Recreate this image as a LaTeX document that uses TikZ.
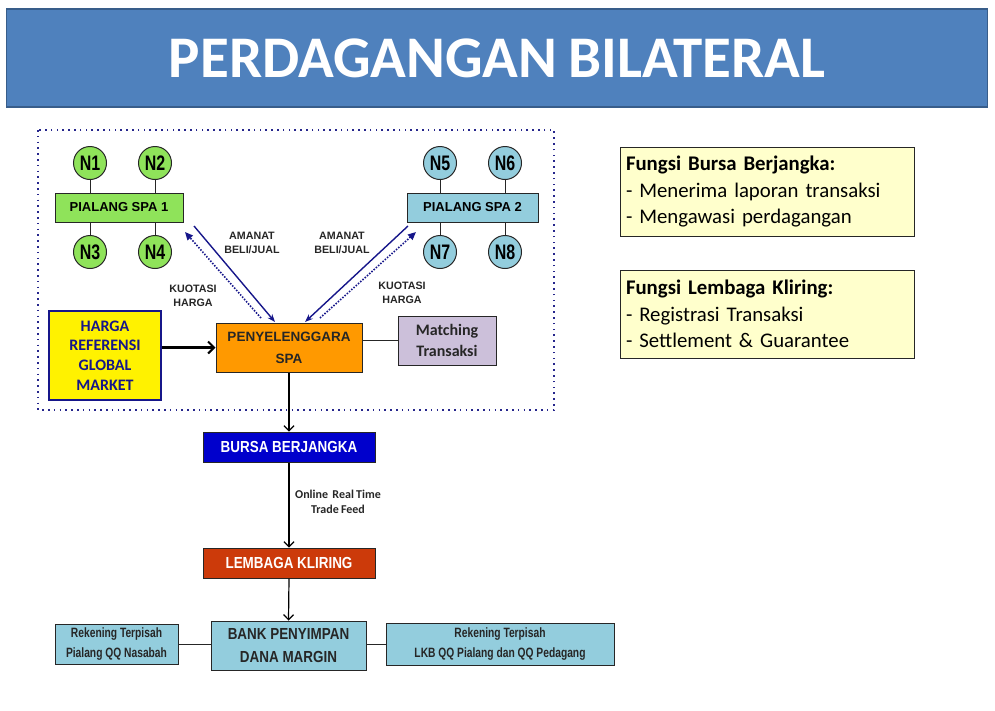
\documentclass[tikz,border=0pt]{standalone}
\usepackage{fontspec}
\setmainfont{Liberation Sans}
\newfontfamily\calib[WordSpace=0.8]{Carlito}
\newfontfamily\narrow[FakeStretch=0.84]{Liberation Sans}
\newfontfamily\condensed[FakeStretch=0.76]{Liberation Sans}
\usetikzlibrary{arrows.meta,calc}
\definecolor{titlefill}{HTML}{4F81BD}
\definecolor{titleline}{HTML}{385D8A}
\definecolor{nodegreen}{HTML}{8FE35A}
\definecolor{nodeblue}{HTML}{93CDDD}
\definecolor{spaorange}{HTML}{FF9900}
\definecolor{lavender}{HTML}{CCC0DA}
\definecolor{bursablue}{HTML}{0000CC}
\definecolor{kliringred}{HTML}{CC3A0A}
\definecolor{paleyellow}{HTML}{FFFFCC}
\definecolor{navy}{HTML}{16168A}
\definecolor{dotblue}{HTML}{26268C}
\begin{document}
\begin{tikzpicture}[x=1pt,y=-1pt,
  box/.style={draw=black!85, line width=1pt, inner sep=0pt, align=center},
  circ/.style={circle, draw=black!85, line width=1pt, minimum size=33pt, inner sep=0pt,
    font=\condensed\bfseries\fontsize{21}{21}\selectfont},
  lbl/.style={font=\bfseries\fontsize{10.7}{14}\selectfont, text=black!85, align=center},
  link/.style={line width=1pt, black!85},
  flow/.style={line width=1.2pt, black, -{Straight Barb[length=5pt,width=10pt,line width=1.2pt]}},
  order/.style={line width=1.4pt, navy, -{Stealth[length=8pt,width=6pt]}},
  quote/.style={line width=1.6pt, navy, dash pattern=on 1.5pt off 1.5pt, -{Triangle[length=8pt,width=7pt]}},
  info/.style={draw=black!85, line width=1pt, fill=paleyellow, minimum width=294pt, inner sep=0pt,
    text width=282pt, align=left, font=\calib\fontsize{20.8}{26.5}\selectfont}
]
\useasboundingbox (0,0) rectangle (995,710);

% title bar
\node[draw=titleline, line width=1.5pt, fill=titlefill, minimum width=981pt, minimum height=98pt,
  inner sep=0pt, text=white, font=\calib\bfseries\fontsize{59}{59}\selectfont] (title) at (497,58)
  {PERDAGANGAN BILATERAL};

% dotted frame around the SPA area
\draw[dotblue, line width=1.6pt, dash pattern=on 1.6pt off 4.2pt] (38,130) rectangle (554,410);

% broker 1 with its clients
\node[box, fill=nodegreen, minimum width=128pt, minimum height=29pt, font=\bfseries\fontsize{13}{14}\selectfont] (p1) at (119,207.5) {PIALANG SPA 1};
\node[circ, fill=nodegreen] (n1) at (90,163) {N1};
\node[circ, fill=nodegreen] (n2) at (155,163) {N2};
\node[circ, fill=nodegreen] (n3) at (90,252) {N3};
\node[circ, fill=nodegreen] (n4) at (155,252) {N4};
\draw[link] (n1) -- (n1 |- p1.north);
\draw[link] (n2) -- (n2 |- p1.north);
\draw[link] (n3) -- (n3 |- p1.south);
\draw[link] (n4) -- (n4 |- p1.south);

% broker 2 with its clients
\node[box, fill=nodeblue, minimum width=131pt, minimum height=29pt, font=\bfseries\fontsize{13}{14}\selectfont] (p2) at (472.5,207.5) {PIALANG SPA 2};
\node[circ, fill=nodeblue] (n5) at (440,163) {N5};
\node[circ, fill=nodeblue] (n6) at (505,163) {N6};
\node[circ, fill=nodeblue] (n7) at (440,252) {N7};
\node[circ, fill=nodeblue] (n8) at (505,252) {N8};
\draw[link] (n5) -- (n5 |- p2.north);
\draw[link] (n6) -- (n6 |- p2.north);
\draw[link] (n7) -- (n7 |- p2.south);
\draw[link] (n8) -- (n8 |- p2.south);

% SPA operator, matching and reference price
\node[box, fill=spaorange, minimum width=146pt, minimum height=49pt, font=\bfseries\fontsize{13.5}{22}\selectfont, text=black!85] (spa) at (289,347.5) {PENYELENGGARA\\SPA};
\node[box, fill=lavender, minimum width=98pt, minimum height=49pt, font=\calib\bfseries\fontsize{16}{20.5}\selectfont, text=black!85] (match) at (447,340.5) {Matching\\Transaksi};
\node[box, draw=navy, line width=1.5pt, fill=yellow, minimum width=112pt, minimum height=89pt, font=\calib\bfseries\fontsize{16}{19.7}\selectfont, text=navy] (ref) at (105,355.5) {HARGA\\REFERENSI\\GLOBAL\\MARKET};
\draw[line width=2.2pt, black, -{Straight Barb[length=6pt,width=12pt,line width=2pt]}] (ref.east |- spa.west) -- (spa.west);
\draw[link] (spa.east |- match.west) -- (match.west);

% orders and quotes between brokers and operator
\coordinate (o1s) at (194,226);
\coordinate (o1e) at (275,322);
\coordinate (q1s) at (261,318);
\coordinate (q1e) at (185,232);
\coordinate (o2s) at (408,226);
\coordinate (o2e) at (305,322);
\coordinate (q2s) at (320,318);
\coordinate (q2e) at (416,232);
\draw[order] (o1s) -- (o1e);
\draw[quote] (q1s) -- (q1e);
\draw[order] (o2s) -- (o2e);
\draw[quote] (q2s) -- (q2e);
\node[lbl] (am1) at (252,243) {AMANAT\\BELI/JUAL};
\node[lbl] (am2) at (342,243) {AMANAT\\BELI/JUAL};
\node[lbl] (ku1) at (193,296) {KUOTASI\\HARGA};
\node[lbl] (ku2) at (402,293) {KUOTASI\\HARGA};

% exchange, clearing house and margin bank
\node[box, fill=bursablue, minimum width=172pt, minimum height=30pt, text=white, font=\narrow\bfseries\fontsize{16}{16}\selectfont] (bursa) at (289,447) {BURSA BERJANGKA};
\node[box, fill=kliringred, minimum width=172pt, minimum height=30pt, text=white, font=\narrow\bfseries\fontsize{16}{16}\selectfont] (kliring) at (289,563) {LEMBAGA KLIRING};
\node[box, fill=nodeblue, minimum width=155pt, minimum height=49pt, text=black!85, font=\narrow\bfseries\fontsize{16}{23}\selectfont] (bank) at (288.5,645.5) {BANK PENYIMPAN\\DANA MARGIN};
\node[box, fill=nodeblue, minimum width=123pt, minimum height=40pt, text=black!85, font=\condensed\bfseries\fontsize{13.5}{20}\selectfont] (rek1) at (116.5,644) {Rekening Terpisah\\Pialang QQ Nasabah};
\node[box, fill=nodeblue, minimum width=228pt, minimum height=42pt, text=black!85, font=\condensed\bfseries\fontsize{13.5}{20}\selectfont] (rek2) at (500,644) {Rekening Terpisah\\LKB QQ Pialang dan QQ Pedagang};

\draw[flow] (spa.south) -- (bursa.north);
\draw[flow] (bursa.south) -- (kliring.north);
\draw[flow] (kliring.south) -- (bank.north);
\draw[link] (rek1.east) -- (bank.west |- rek1.east);
\draw[link] (bank.east |- rek2.west) -- (rek2.west);
\node[font=\calib\bfseries\fontsize{12}{15}\selectfont, text=black!85, align=center] (feed) at (338,502) {Online\ \ Real Time\\Trade Feed};

% function notes
\node[info, minimum height=89pt] (fb) at (767,191.5) {\textbf{Fungsi Bursa Berjangka:}\\- Menerima laporan transaksi\\- Mengawasi perdagangan};
\node[info, minimum height=88pt] (fl) at (767,314) {\textbf{Fungsi Lembaga Kliring:}\\- Registrasi Transaksi\\- Settlement \& Guarantee};
\end{tikzpicture}
\end{document}
